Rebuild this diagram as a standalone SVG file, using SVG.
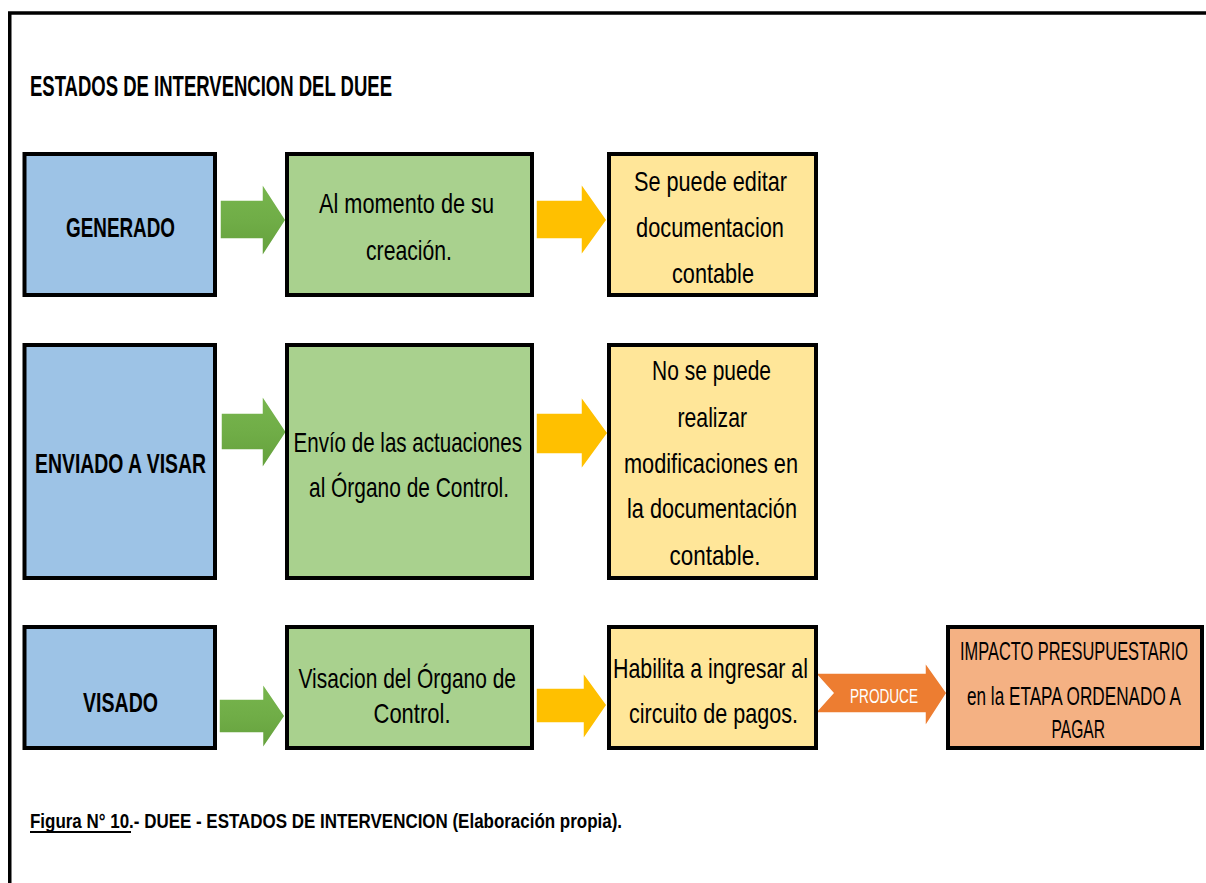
<svg xmlns="http://www.w3.org/2000/svg" width="1206" height="883" viewBox="0 0 1206 883">
<style>
.t{font-family:"Liberation Sans",Arial,sans-serif;fill:#000;}
.b{font-weight:bold;}
.box{stroke:#000;stroke-width:4;}
.blue{fill:#9DC3E6;}
.green{fill:#A9D18E;}
.yellow{fill:#FFE699;}
.orange{fill:#F4B183;}
.ga{fill:url(#gg);stroke:#fff;stroke-width:1.5;}
.ya{fill:#FFC000;stroke:#fff;stroke-width:1.5;}
.oa{fill:#ED7D31;stroke:#fff;stroke-width:1.5;}
</style>
<defs>
<linearGradient id="gg" x1="0" y1="0" x2="0" y2="1">
<stop offset="0" stop-color="#78B64E"/>
<stop offset="0.5" stop-color="#70AD47"/>
<stop offset="1" stop-color="#64A03C"/>
</linearGradient>
</defs>
<rect width="1206" height="883" fill="#fff"/>
<path d="M9.75,883 V13 H1206" fill="none" stroke="#000" stroke-width="3.5"/>
<text class="t b" x="30" y="96" font-size="29" textLength="362" lengthAdjust="spacingAndGlyphs">ESTADOS DE INTERVENCION DEL DUEE</text>

<g id="connectors">
<path class="ga" d="M220,200 H262 V183 L286,220 L262,257 V239 H220 Z"/>
<path class="ya" d="M536,200 H581 V183 L607,220 L581,256 V239 H536 Z"/>
<path class="ga" d="M221,413 H262 V395 L286.5,432 L262,469 V450 H221 Z"/>
<path class="ya" d="M536,413 H581 V396 L608,433 L581,470 V454 H536 Z"/>
<path class="ga" d="M219,699 H262.5 V683 L285,716 L262.5,749 V733 H219 Z"/>
<path class="ya" d="M536,688 H583 V672 L607,705 L583,740 V723 H536 Z"/>
<g id="produce">
<path class="oa" d="M815,673 H925 V662 L947,693 L925,727 V713 H815 L833,693 Z"/>
<text class="t" x="850" y="703" font-size="21" style="fill:#fff" textLength="68" lengthAdjust="spacingAndGlyphs">PRODUCE</text>
</g>
</g>

<g id="generado">
<rect class="box blue" x="24.5" y="154" width="190.5" height="141"/>
<text class="t b" x="66" y="237" font-size="28" textLength="109" lengthAdjust="spacingAndGlyphs">GENERADO</text>
</g>
<g id="creacion">
<rect class="box green" x="287" y="154" width="245" height="141"/>
<text class="t" x="319" y="213" font-size="28" textLength="175" lengthAdjust="spacingAndGlyphs">Al momento de su</text>
<text class="t" x="366" y="260" font-size="28" textLength="86" lengthAdjust="spacingAndGlyphs">creación.</text>
</g>
<g id="editar">
<rect class="box yellow" x="609" y="154" width="207" height="141"/>
<text class="t" x="634" y="191" font-size="28" textLength="153" lengthAdjust="spacingAndGlyphs">Se puede editar</text>
<text class="t" x="636" y="237" font-size="28" textLength="148" lengthAdjust="spacingAndGlyphs">documentacion</text>
<text class="t" x="672" y="283" font-size="28" textLength="82" lengthAdjust="spacingAndGlyphs">contable</text>
</g>

<g id="enviado">
<rect class="box blue" x="24.5" y="345" width="190.5" height="233"/>
<text class="t b" x="35" y="473" font-size="28" textLength="171" lengthAdjust="spacingAndGlyphs">ENVIADO A VISAR</text>
</g>
<g id="envio">
<rect class="box green" x="287" y="345" width="245" height="233"/>
<text class="t" x="293.5" y="452" font-size="28" textLength="228.5" lengthAdjust="spacingAndGlyphs">Envío de las actuaciones</text>
<text class="t" x="309" y="497" font-size="28" textLength="200" lengthAdjust="spacingAndGlyphs">al Órgano de Control.</text>
</g>
<g id="nosepuede">
<rect class="box yellow" x="609" y="345" width="207" height="233"/>
<text class="t" x="652" y="380" font-size="28" textLength="119" lengthAdjust="spacingAndGlyphs">No se puede</text>
<text class="t" x="677.5" y="427" font-size="28" textLength="69.5" lengthAdjust="spacingAndGlyphs">realizar</text>
<text class="t" x="624" y="473" font-size="28" textLength="174" lengthAdjust="spacingAndGlyphs">modificaciones en</text>
<text class="t" x="627" y="518" font-size="28" textLength="170" lengthAdjust="spacingAndGlyphs">la documentación</text>
<text class="t" x="669.5" y="565" font-size="28" textLength="91" lengthAdjust="spacingAndGlyphs">contable.</text>
</g>

<g id="visado">
<rect class="box blue" x="24.5" y="627" width="190.5" height="121"/>
<text class="t b" x="83" y="712" font-size="28" textLength="75" lengthAdjust="spacingAndGlyphs">VISADO</text>
</g>
<g id="visacion">
<rect class="box green" x="287" y="627" width="245" height="121"/>
<text class="t" x="298.5" y="688" font-size="28" textLength="217.5" lengthAdjust="spacingAndGlyphs">Visacion del Órgano de</text>
<text class="t" x="373.5" y="723" font-size="28" textLength="77" lengthAdjust="spacingAndGlyphs">Control.</text>
</g>
<g id="habilita">
<rect class="box yellow" x="609" y="627" width="207" height="121"/>
<text class="t" x="613" y="678" font-size="28" textLength="195" lengthAdjust="spacingAndGlyphs">Habilita a ingresar al</text>
<text class="t" x="629" y="723" font-size="28" textLength="169" lengthAdjust="spacingAndGlyphs">circuito de pagos.</text>
</g>
<g id="impacto">
<rect class="box orange" x="948" y="627" width="254" height="121"/>
<text class="t" transform="translate(960 660) scale(0.6 1)" x="0" y="0" font-size="25" textLength="380" lengthAdjust="spacingAndGlyphs">IMPACTO PRESUPUESTARIO</text>
<text class="t" transform="translate(967 705) scale(0.6 1)" x="0" y="0" font-size="25" textLength="356.7" lengthAdjust="spacingAndGlyphs">en la ETAPA ORDENADO A</text>
<text class="t" transform="translate(1051.5 738) scale(0.6 1)" x="0" y="0" font-size="25" textLength="89.2" lengthAdjust="spacingAndGlyphs">PAGAR</text>
</g>

<text class="t b" transform="translate(30 828) scale(0.6 1)" x="0" y="0" font-size="20" textLength="986.7" lengthAdjust="spacingAndGlyphs">Figura N° 10.- DUEE - ESTADOS DE INTERVENCION (Elaboración propia).</text>
<line x1="30" y1="832" x2="131" y2="832" stroke="#000" stroke-width="1.8"/>
</svg>
